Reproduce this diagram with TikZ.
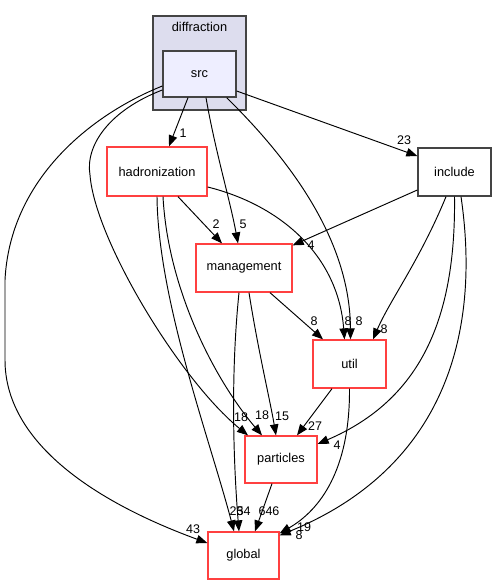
\documentclass[tikz,border=0pt]{standalone}
\usepackage{fontspec}
\setmainfont{Liberation Sans}
\usetikzlibrary{arrows.meta}
\definecolor{redbox}{RGB}{255,64,64}
\definecolor{darkb}{RGB}{68,68,68}
\definecolor{clusterfill}{RGB}{221,221,238}
\definecolor{srcfill}{RGB}{238,238,255}
\tikzset{
  dirbox/.style={draw=redbox,line width=1.3pt,fill=white,inner sep=0pt,font=\fontsize{12.8}{14}\selectfont},
  incbox/.style={draw=darkb,line width=1.3pt,fill=white,inner sep=0pt,font=\fontsize{12.8}{14}\selectfont},
  edge/.style={line width=0.95pt,-{Triangle[length=11pt,width=8.5pt]}},
  elabel/.style={inner sep=0pt,font=\fontsize{12.5}{14}\selectfont}
}
\begin{document}
\begin{tikzpicture}[x=1pt,y=-1pt]
\path[use as bounding box,fill=white] (0,0) rectangle (496,585);
% cluster
\node[draw=darkb,line width=1.3pt,fill=clusterfill,minimum width=93pt,minimum height=94pt,inner sep=0pt] (cluster) at (199.5,63) {};
\node[inner sep=0pt,font=\fontsize{12.8}{14}\selectfont] (clabel) at (199.5,27) {diffraction};
\node[incbox,fill=srcfill,minimum width=73pt,minimum height=46pt] (src) at (199.5,74) {src};
\node[dirbox,minimum width=100pt,minimum height=49pt] (had) at (157,171.5) {hadronization};
\node[dirbox,minimum width=96pt,minimum height=48pt] (man) at (244,268) {management};
\node[incbox,minimum width=73pt,minimum height=48pt] (inc) at (454.5,172) {include};
\node[dirbox,minimum width=73pt,minimum height=48pt] (util) at (349.5,364) {util};
\node[dirbox,minimum width=72pt,minimum height=47pt] (part) at (281,459.5) {particles};
\node[dirbox,minimum width=71pt,minimum height=47pt] (glob) at (243.5,555.5) {global};

% edges
\draw[edge] ([xshift=-11.5pt]src.south) -- ([xshift=12pt]had.north);
\draw[edge] ([xshift=6.5pt]src.south) .. controls (215,150) and (230,200) .. ([xshift=-6pt]man.north);
\draw[edge] ([xshift=-10pt]src.south east) .. controls (290,160) and (350,240) .. ([xshift=1pt]util.north);
\draw[edge] ([yshift=-17pt]src.east) -- ([yshift=16pt]inc.west);
\draw[edge] ([yshift=-16pt]src.west) .. controls (110,110) and (85,145) .. (90,175) .. controls (95,240) and (180,380) .. ([xshift=-33pt]part.north);
\draw[edge] ([yshift=-12pt]src.west) .. controls (90,115) and (10,180) .. (5,280) -- (5,360) .. controls (5,440) and (90,500) .. ([yshift=12.5pt]glob.west);
\draw[edge] ([xshift=21pt]had.south) -- ([xshift=-22pt]man.north);
\draw[edge] ([yshift=-15.5pt]had.east) .. controls (280,205) and (338,255) .. ([xshift=-5pt]util.north);
\draw[edge] ([xshift=6pt]had.south) .. controls (168,290) and (215,380) .. ([xshift=-19pt]part.north);
\draw[edge] (had.south) .. controls (158,300) and (210,440) .. ([xshift=-9.5pt]glob.north);
\draw[edge] ([xshift=26pt]man.south) -- ([xshift=-26.5pt]util.north);
\draw[edge] ([xshift=5pt]man.south) .. controls (258,350) and (270,400) .. ([xshift=-5pt]part.north);
\draw[edge] ([xshift=-5pt]man.south) .. controls (230,380) and (234,470) .. ([xshift=-4.5pt]glob.north);
\draw[edge] ([yshift=-18pt]inc.west) -- ([yshift=-2pt]man.north east);
\draw[edge] ([xshift=-8.5pt]inc.south) .. controls (420,260) and (390,300) .. ([xshift=23.5pt]util.north);
\draw[edge] (inc.south) .. controls (456,320) and (420,400) .. ([yshift=15.5pt]part.east);
\draw[edge] ([xshift=6.5pt]inc.south) .. controls (482,340) and (440,470) .. ([yshift=-4pt]glob.north east);
\draw[edge] (util.south) .. controls (350,470) and (320,510) .. ([yshift=-2pt]glob.north east);
\draw[edge] ([xshift=-17.5pt]util.south) -- ([xshift=16pt]part.north);
\draw[edge] ([xshift=-9pt]part.south) -- ([xshift=11.5pt]glob.north);

% labels
\node[elabel] (l1) at (183,133) {1};
\node[elabel] (l5) at (243,224) {5};
\node[elabel] (l23) at (404,140) {23};
\node[elabel] (l2) at (216,224) {2};
\node[elabel] (l4a) at (311,245) {4};
\node[elabel] (l8a) at (314,321) {8};
\node[elabel] (l8b) at (348,321) {8};
\node[elabel] (l8c) at (359,321) {8};
\node[elabel] (l8d) at (384,329) {8};
\node[elabel] (l18a) at (241,417) {18};
\node[elabel] (l18b) at (262,415) {18};
\node[elabel] (l15) at (282,416) {15};
\node[elabel] (l27) at (315,426) {27};
\node[elabel] (l4b) at (337,445) {4};
\node[elabel] (l43) at (193,529) {43};
\node[elabel] (l25) at (236.5,511) {25};
\node[elabel] (l34) at (243.5,511) {34};
\node[elabel] (l646) at (269,511) {646};
\node[elabel] (l19) at (304,527) {19};
\node[elabel] (l8e) at (299,535) {8};
\end{tikzpicture}
\end{document}
